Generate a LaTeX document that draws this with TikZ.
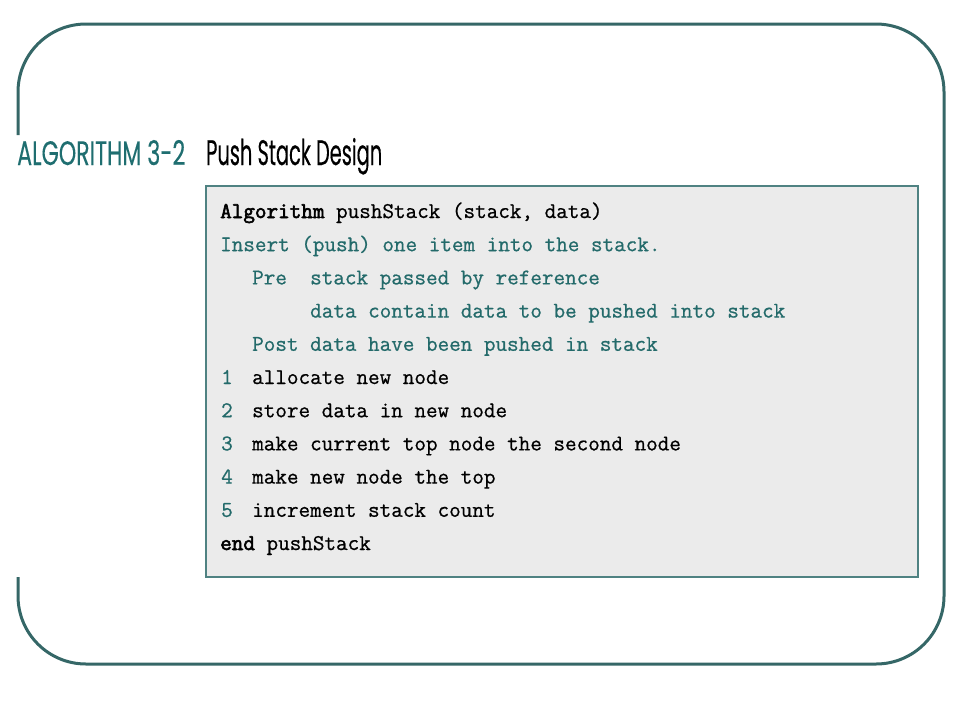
\documentclass[tikz,border=0pt]{standalone}
\usepackage{fontspec}
\newfontfamily\codefont[FakeBold=0.7, BoldFont={Latin Modern Mono}, BoldFeatures={FakeBold=2.6}]{Latin Modern Mono}
\newfontfamily\titlefont[FakeBold=0.3]{Poppins}
\definecolor{frame}{HTML}{356767}
\definecolor{boxline}{HTML}{4F8282}
\definecolor{boxfill}{HTML}{EBEBEB}
\definecolor{codeteal}{HTML}{236A6A}
\definecolor{titleteal}{HTML}{1F6E70}
\begin{document}
\begin{tikzpicture}[x=1pt,y=-1pt,
  txt/.style={anchor=base west, inner sep=0pt, font=\codefont\fontsize{22.5}{22.5}\selectfont},
  cmt/.style={txt, text=codeteal},
  plain/.style={txt, text=black},
  ttl/.style={anchor=base west, inner sep=0pt}]
\useasboundingbox (0,0) rectangle (960,720);
% outer frame (open on the left behind the title)
\draw[frame, line width=3pt, rounded corners=68pt]
  (18,135) -- (18,24) -- (944,24) -- (944,664) -- (18,664) -- (18,577);
% title
\node[ttl, text=titleteal] (t1) at (17,165) {\resizebox{168pt}{25pt}{\titlefont ALGORITHM 3-2}};
\node[ttl, text=black] (t2) at (206,165) {\resizebox{176pt}{27pt}{\titlefont Push Stack Design}};
% code box
\node[draw=boxline, line width=1.5pt, fill=boxfill, anchor=north west,
  minimum width=712pt, minimum height=391pt, inner sep=0pt] (box) at (205,185) {};
% code lines
\node[plain] (l1) at (220,218) {\textbf{Algorithm} pushStack (stack, data)};
\node[cmt] (l2) at (220,251.2) {Insert (push) one item into the stack.};
\node[cmt] (l3a) at (252,284.4) {Pre};
\node[cmt] (l3b) at (310,284.4) {stack passed by reference};
\node[cmt] (l4) at (310,317.6) {data contain data to be pushed into stack};
\node[cmt] (l5) at (252,350.8) {Post data have been pushed in stack};
\node[cmt] (n1) at (221,384) {1};
\node[plain] (s1) at (252,384) {allocate new node};
\node[cmt] (n2) at (221,417.2) {2};
\node[plain] (s2) at (252,417.2) {store data in new node};
\node[cmt] (n3) at (221,450.4) {3};
\node[plain] (s3) at (252,450.4) {make current top node the second node};
\node[cmt] (n4) at (221,483.6) {4};
\node[plain] (s4) at (252,483.6) {make new node the top};
\node[cmt] (n5) at (221,516.8) {5};
\node[plain] (s5) at (252,516.8) {increment stack count};
\node[plain] (l11) at (220,550) {\textbf{end} pushStack};
\end{tikzpicture}
\end{document}
